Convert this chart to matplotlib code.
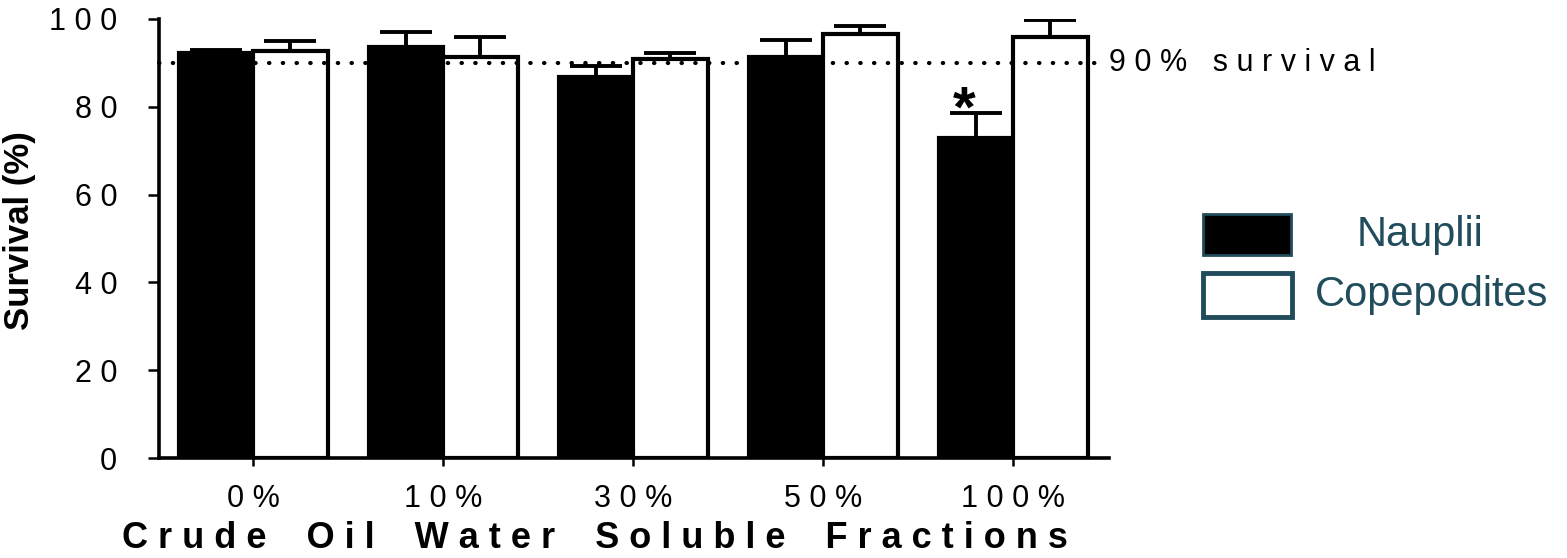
import matplotlib
matplotlib.use("Agg")
import matplotlib.pyplot as plt
import numpy as np
from matplotlib.patches import Rectangle

plt.rcParams['font.family'] = ['Liberation Sans', 'DejaVu Sans']

categories = ["0 %", "1 0 %", "3 0 %", "5 0 %", "1 0 0 %"]
nauplii = [92.2, 93.7, 86.9, 91.4, 73.0]
nauplii_err = [0.7, 3.3, 2.4, 3.8, 5.7]
copepodites = [92.6, 91.4, 91.0, 96.5, 96.0]
copepodites_err = [2.4, 4.6, 1.2, 1.9, 3.7]
yticks = [0, 20, 40, 60, 80, 100]
ytick_labels = ["0", "2 0", "4 0", "6 0", "8 0", "1 0 0"]
threshold = 90
significant = [False, False, False, False, True]

W, H = 1567, 558
fig = plt.figure(figsize=(W / 100, H / 100), dpi=100)
ax = fig.add_axes([159 / W, 1 - 458 / H, (1109 - 159) / W, (458 - 19) / H])

x = np.arange(len(categories))
bw = 0.39
off = 0.197
ax.bar(x - off, nauplii, width=bw, color="black", edgecolor="black", linewidth=3, zorder=2)
ax.bar(x + off, copepodites, width=bw, color="white", edgecolor="black", linewidth=3, zorder=2)

ax.errorbar(x - off, nauplii, yerr=[np.zeros(len(x)), nauplii_err], fmt="none",
            ecolor="black", elinewidth=2.8, capsize=19, capthick=2.8, zorder=3)
ax.errorbar(x + off, copepodites, yerr=[np.zeros(len(x)), copepodites_err], fmt="none",
            ecolor="black", elinewidth=2.8, capsize=19, capthick=2.8, zorder=3)

ax.axhline(threshold, color="black", linewidth=3, linestyle=(0, (0.1, 3.2)),
           dash_capstyle="round", zorder=4, clip_on=False, xmax=0.996)
ax.text(1.0, threshold, "9 0 %   s u r v i v a l", transform=ax.get_yaxis_transform(),
        ha="left", va="center", fontsize=22, color="black")

for i, sig in enumerate(significant):
    if sig:
        ax.text(x[i] - off - 0.06, nauplii[i] + nauplii_err[i] - 3.3, "*", ha="center",
                va="baseline", fontsize=42, fontweight="bold", color="black")

ax.set_xlim(-0.495, 4.505)
ax.set_ylim(0, 100)
ax.set_xticks(x)
ax.set_xticklabels(categories, fontsize=22)
ax.set_yticks(yticks)
ax.set_yticklabels(ytick_labels, fontsize=22)
ax.tick_params(axis="y", direction="out", length=8, width=1.8, pad=22)
ax.tick_params(axis="x", direction="out", length=6, width=1.8, pad=13)

for s in ["top", "right"]:
    ax.spines[s].set_visible(False)
for s in ["left", "bottom"]:
    ax.spines[s].set_linewidth(2.6)

ax.set_ylabel("Survival (%)", fontsize=25, fontweight="bold")
ax.yaxis.set_label_coords((36 - 159) / 950, 0.517)
ax.set_xlabel("C r u d e    O i l    W a t e r    S o l u b l e    F r a c t i o n s",
              fontsize=26, fontweight="bold")
ax.xaxis.set_label_coords(0.459, (458 - 521) / 439)

teal = "#214C5C"
fig.add_artist(Rectangle((1203 / W, 1 - 255 / H), 88 / W, 41 / H, transform=fig.transFigure,
                         facecolor="black", edgecolor=teal, linewidth=2))
fig.add_artist(Rectangle((1203 / W, 1 - 317 / H), 89 / W, 44 / H, transform=fig.transFigure,
                         facecolor="white", edgecolor=teal, linewidth=3.5))
fig.text(1420 / W, 1 - 235 / H, "Nauplii", ha="center", va="center", fontsize=30, color=teal)
fig.text(1432 / W, 1 - 295 / H, "Copepodites", ha="center", va="center", fontsize=30, color=teal)

fig.savefig("out.png", dpi=100)
